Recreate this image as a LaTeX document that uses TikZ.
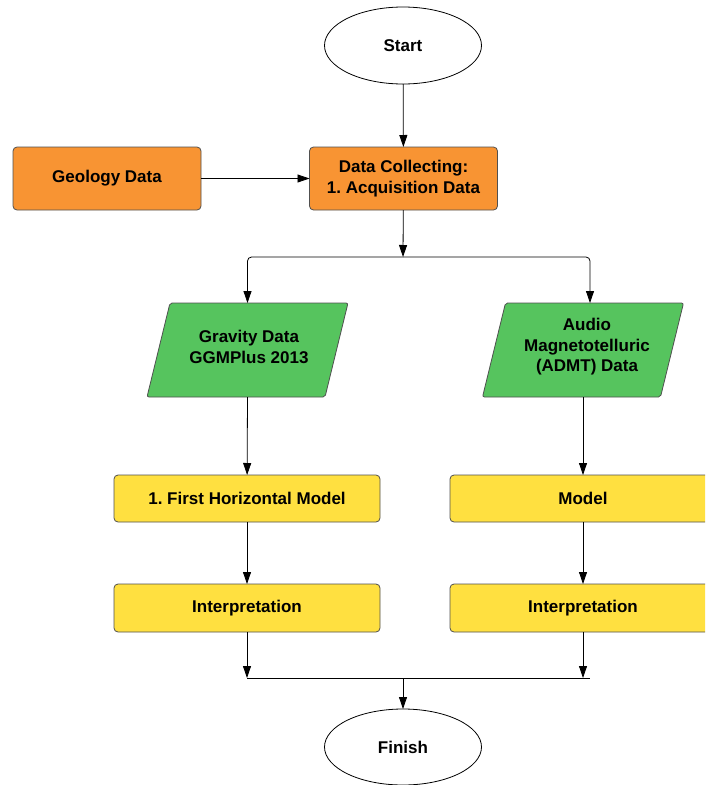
\documentclass[tikz,border=0pt]{standalone}
\usepackage{fontspec}
\setmainfont{Liberation Sans}
\usetikzlibrary{shapes.geometric,arrows.meta,backgrounds,calc}
\definecolor{orangebox}{RGB}{248,148,51}
\definecolor{greenbox}{RGB}{86,196,94}
\definecolor{yellowbox}{RGB}{255,224,64}
\definecolor{edgegray}{RGB}{80,80,80}
\frenchspacing
\begin{document}
\begin{tikzpicture}[x=1pt,y=-1pt,
  every node/.style={font=\fontsize{17}{20.5}\selectfont\bfseries, align=center, inner sep=0pt, outer sep=0pt},
  term/.style={ellipse, draw=black, line width=0.8pt, fill=white, minimum width=157pt, minimum height=77pt},
  orangestep/.style={rectangle, rounded corners=4pt, draw=edgegray, line width=0.8pt, fill=orangebox, minimum width=188pt, minimum height=63pt},
  yellowstep/.style={rectangle, rounded corners=4pt, draw=edgegray, line width=0.8pt, fill=yellowbox, minimum width=266pt, minimum height=47pt},
  databox/.style={rectangle, minimum width=178pt, minimum height=94pt},
  parafill/.style={draw=edgegray, line width=0.8pt, fill=greenbox, rounded corners=2pt},
  arr/.style={-{Triangle[length=12pt,width=8pt]}, line width=0.8pt, black},
  ln/.style={line width=0.8pt, black}
]
\useasboundingbox (0,0) rectangle (705,785);
\clip (0,0) rectangle (705,785);
\fill[white] (0,0) rectangle (705,785);

\node[term] (start) at (403,45.5) {Start};
\node[orangestep] (collect) at (403.5,178.5) {Data Collecting:\\1. Acquisition Data};
\node[orangestep] (geology) at (107,178.5) {Geology Data};

\node[databox] (grav) at (247.5,350) {};
\node[databox] (admt) at (583,350) {};
\draw[parafill] ([xshift=11.5pt]grav.north west) -- ([xshift=11.5pt]grav.north east) -- ([xshift=-11.5pt]grav.south east) -- ([xshift=-11.5pt]grav.south west) -- cycle;
\draw[parafill] ([xshift=11.5pt]admt.north west) -- ([xshift=11.5pt]admt.north east) -- ([xshift=-11.5pt]admt.south east) -- ([xshift=-11.5pt]admt.south west) -- cycle;
\node (gravtext) at (249,347) {Gravity Data\\GGMPlus 2013};
\node (admttext) at (587,347) {Audio\\Magnetotelluric\\(ADMT) Data};

\node[yellowstep] (hmodel) at (247,498.5) {1. First Horizontal Model};
\node[yellowstep] (model) at (583,498.5) {Model};
\node[yellowstep, minimum height=48pt] (interp1) at (247,608) {Interpretation};
\node[yellowstep, minimum height=48pt] (interp2) at (583,608) {Interpretation};

\node[term, minimum height=76pt] (finish) at (403,747) {Finish};

\coordinate (split) at (403,257);
\coordinate (join) at (403,678);
\coordinate (joinleft) at (247,678);
\coordinate (joinright) at (590,678);
\coordinate (joinr) at (583,678);

\draw[arr] (start) -- (collect);
\draw[arr] (geology) -- (collect);
\draw[arr] (collect) -- (split);
\draw[arr, rounded corners=4pt] (split) -| (grav.north);
\draw[arr, rounded corners=4pt] (split) -| ([xshift=7pt]admt.north);
\draw[arr] (grav.south) -- (hmodel);
\draw[arr] (admt.south) -- (model);
\draw[arr] (hmodel) -- (interp1);
\draw[arr] (model) -- (interp2);
\draw[arr] (interp1) -- (joinleft);
\draw[arr] (interp2) -- (joinr);
\draw[ln] (joinleft) -- (joinright);
\draw[arr] (join) -- (finish);
\end{tikzpicture}
\end{document}
